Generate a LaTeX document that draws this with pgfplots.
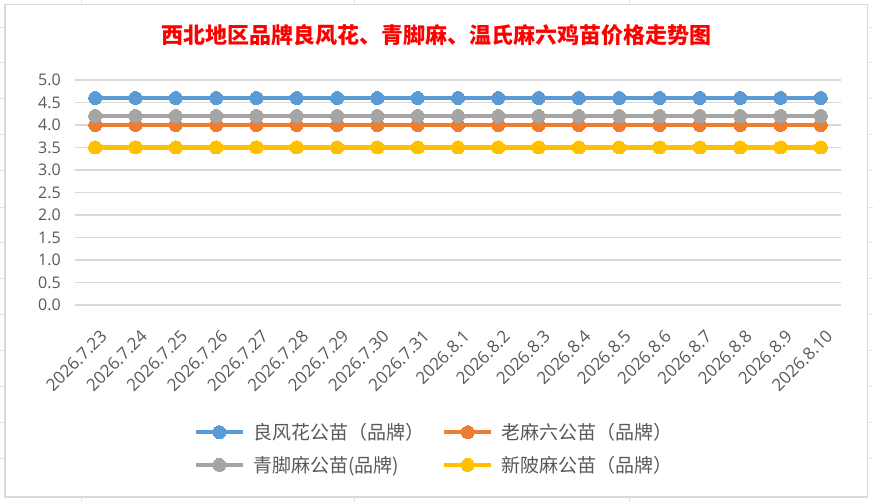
\documentclass[border=0pt]{standalone}
\usepackage{fontspec}
\setmainfont{Open Sans}
\newfontfamily\cjk{Noto Sans CJK SC}
\usepackage{pgfplots}
\pgfplotsset{compat=1.18}
\definecolor{cBlue}{HTML}{5B9BD5}
\definecolor{cOrange}{HTML}{ED7D31}
\definecolor{cGray}{HTML}{A5A5A5}
\definecolor{cYellow}{HTML}{FFC000}
\definecolor{gridc}{HTML}{D9D9D9}
\definecolor{txt}{HTML}{595959}
\definecolor{xlgrid}{HTML}{E2E2E2}
\begin{document}
\begin{tikzpicture}[x=1pt,y=1pt]
\useasboundingbox (0,0) rectangle (873,502);
\fill[white] (0,0) rectangle (873,502);
% spreadsheet gridlines outside the chart
\foreach \yy in {27,62,98,134,170,207,242,278,314,350,386,422,458}{
  \draw[xlgrid, line width=0.8pt] (0,502-\yy) -- (4,502-\yy);
  \draw[xlgrid, line width=0.8pt] (869,502-\yy) -- (873,502-\yy);
}
\foreach \xx in {81,354,629}{
  \draw[xlgrid, line width=0.8pt] (\xx,0) -- (\xx,4);
  \draw[xlgrid, line width=0.8pt] (\xx,498) -- (\xx,502);
}
\draw[gridc, line width=1.5pt] (4.75,4.75) rectangle (867.5,497.25);
\node[font=\cjk\bfseries\fontsize{22}{26}\selectfont, text=red] at (436.5,467) {西北地区品牌良风花、青脚麻、温氏麻六鸡苗价格走势图};
\begin{axis}[
  at={(75pt,197pt)}, anchor=south west,
  scale only axis, width=766pt, height=225pt,
  xmin=-0.5, xmax=18.5, ymin=0, ymax=5,
  ytick={0,0.5,...,5},
  xtick={0,...,18},
  xticklabels={2026.7.23,2026.7.24,2026.7.25,2026.7.26,2026.7.27,2026.7.28,2026.7.29,2026.7.30,2026.7.31,2026.8.1,2026.8.2,2026.8.3,2026.8.4,2026.8.5,2026.8.6,2026.8.7,2026.8.8,2026.8.9,2026.8.10},
  /pgf/number format/assume math mode=true,
  yticklabel={\pgfmathprintnumber[fixed,fixed zerofill,precision=1]{\tick}},
  ticklabel style={text=txt},
  yticklabel style={font=\fontsize{16}{18}\selectfont, anchor=east, inner sep=0pt, xshift=-14pt},
  xticklabel style={font=\fontsize{17}{19}\selectfont, anchor=north east, inner sep=0pt, xshift=4pt, yshift=-24pt, rotate=45},
  major tick length=0pt,
  axis line style={draw=none},
  ymajorgrids, grid style={gridc, line width=1.2pt},
  clip=false,
  legend columns=2,
  legend cell align=left,
  legend style={draw=none, fill=none, at={(0.4674,-0.638)}, anchor=center,
    font=\cjk\fontsize{19}{22}\selectfont, text=txt,
    nodes={inner sep=0pt},
    /tikz/every odd column/.append style={column sep=8pt},
    /tikz/every even column/.append style={column sep=18pt},
    row sep=15pt},
  legend image code/.code={\draw[mark repeat=2,mark phase=2,#1] plot coordinates {(0pt,0pt) (23.5pt,0pt) (47pt,0pt)};},
  every axis plot/.append style={line width=4.5pt, mark=*, mark size=6.5pt, mark options={solid}},
]
\addplot[cBlue, mark options={fill=cBlue, draw=cBlue, line width=0pt}] coordinates {(0,4.6)(1,4.6)(2,4.6)(3,4.6)(4,4.6)(5,4.6)(6,4.6)(7,4.6)(8,4.6)(9,4.6)(10,4.6)(11,4.6)(12,4.6)(13,4.6)(14,4.6)(15,4.6)(16,4.6)(17,4.6)(18,4.6)};
\addlegendentry{良风花公苗（品牌）}
\addplot[cOrange, mark options={fill=cOrange, draw=cOrange, line width=0pt}] coordinates {(0,4.0)(1,4.0)(2,4.0)(3,4.0)(4,4.0)(5,4.0)(6,4.0)(7,4.0)(8,4.0)(9,4.0)(10,4.0)(11,4.0)(12,4.0)(13,4.0)(14,4.0)(15,4.0)(16,4.0)(17,4.0)(18,4.0)};
\addlegendentry{老麻六公苗（品牌）}
\addplot[cGray, mark options={fill=cGray, draw=cGray, line width=0pt}] coordinates {(0,4.2)(1,4.2)(2,4.2)(3,4.2)(4,4.2)(5,4.2)(6,4.2)(7,4.2)(8,4.2)(9,4.2)(10,4.2)(11,4.2)(12,4.2)(13,4.2)(14,4.2)(15,4.2)(16,4.2)(17,4.2)(18,4.2)};
\addlegendentry{青脚麻公苗(品牌)}
\addplot[cYellow, mark options={fill=cYellow, draw=cYellow, line width=0pt}] coordinates {(0,3.5)(1,3.5)(2,3.5)(3,3.5)(4,3.5)(5,3.5)(6,3.5)(7,3.5)(8,3.5)(9,3.5)(10,3.5)(11,3.5)(12,3.5)(13,3.5)(14,3.5)(15,3.5)(16,3.5)(17,3.5)(18,3.5)};
\addlegendentry{新陂麻公苗（品牌）}
\end{axis}
\end{tikzpicture}
\end{document}
